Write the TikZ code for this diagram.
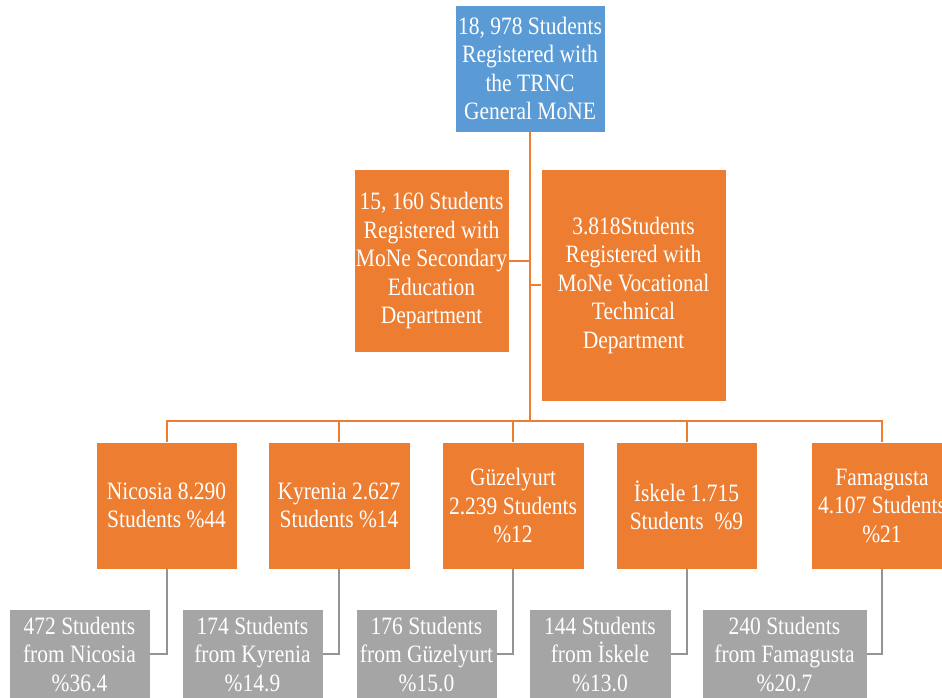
\documentclass[tikz,border=0pt]{standalone}
\usepackage{fontspec}
\setmainfont{Liberation Serif}[FakeStretch=0.86]
\definecolor{orng}{HTML}{ED7D31}
\definecolor{blu}{HTML}{5B9BD5}
\definecolor{gry}{HTML}{A5A5A5}
\begin{document}
\begin{tikzpicture}[x=1pt,y=-1pt,
  box/.style={rectangle, inner sep=0pt, align=center, text=white,
    font=\fontsize{25}{28.5}\selectfont, draw=white, line width=0.8pt},
  bluebox/.style={box, fill=blu},
  orbox/.style={box, fill=orng},
  grbox/.style={box, fill=gry},
  orline/.style={draw=orng, line width=2pt},
  grline/.style={draw=gry!90!black, line width=2pt}]
\clip (0,0) rectangle (942,697);
\fill[white] (0,0) rectangle (942,697);

\node[bluebox, minimum width=150pt, minimum height=127pt] (top) at (530,68.5)
  {18, 978 Students\\Registered with\\the TRNC\\General MoNE};
\node[orbox, minimum width=155pt, minimum height=183pt] (sec) at (431.5,260.5)
  {15, 160 Students\\Registered with\\MoNe Secondary\\Education\\Department};
\node[orbox, minimum width=185pt, minimum height=232pt] (voc) at (633.5,285)
  {3.818Students\\Registered with\\MoNe Vocational\\Technical\\Department};

\node[orbox, minimum width=141pt, minimum height=127pt] (n1) at (166.5,505.5)
  {Nicosia 8.290\\Students \%44};
\node[orbox, minimum width=142pt, minimum height=127pt] (n2) at (339,505.5)
  {Kyrenia 2.627\\Students \%14};
\node[orbox, minimum width=142pt, minimum height=127pt] (n3) at (513,505.5)
  {Güzelyurt\\2.239 Students\\\%12};
\node[orbox, minimum width=141pt, minimum height=127pt] (n4) at (686.5,505.5)
  {İskele 1.715\\Students\ \ \%9};
\node[orbox, minimum width=142pt, minimum height=127pt] (n5) at (882,505.5)
  {Famagusta\\4.107 Students\\\%21};

\node[grbox, minimum width=141pt, minimum height=90pt] (g1) at (79.5,654)
  {472 Students\\from Nicosia\\\%36.4};
\node[grbox, minimum width=141pt, minimum height=90pt] (g2) at (252.5,654)
  {174 Students\\from Kyrenia\\\%14.9};
\node[grbox, minimum width=141pt, minimum height=90pt] (g3) at (426.5,654)
  {176 Students\\from Güzelyurt\\\%15.0};
\node[grbox, minimum width=142pt, minimum height=90pt] (g4) at (600,654)
  {144 Students\\from İskele\\\%13.0};
\node[grbox, minimum width=165pt, minimum height=90pt] (g5) at (784.5,654)
  {240 Students\\from Famagusta\\\%20.7};

\coordinate (bus) at (530,421);
\draw[orline] (top.south) -- (bus);
\draw[orline] (sec.east) -- (sec.east -| top.south);
\draw[orline] (voc.west) -- (voc.west -| top.south);
\draw[orline] (n1.north) -- (n1.north |- bus) -- (n5.north |- bus) -- (n5.north);
\draw[orline] (n2.north) -- (n2.north |- bus);
\draw[orline] (n3.north) -- (n3.north |- bus);
\draw[orline] (n4.north) -- (n4.north |- bus);

\draw[grline] (n1.south) |- (g1.east);
\draw[grline] (n2.south) |- (g2.east);
\draw[grline] (n3.south) |- (g3.east);
\draw[grline] (n4.south) |- (g4.east);
\draw[grline] (n5.south) |- (g5.east);
\end{tikzpicture}
\end{document}
